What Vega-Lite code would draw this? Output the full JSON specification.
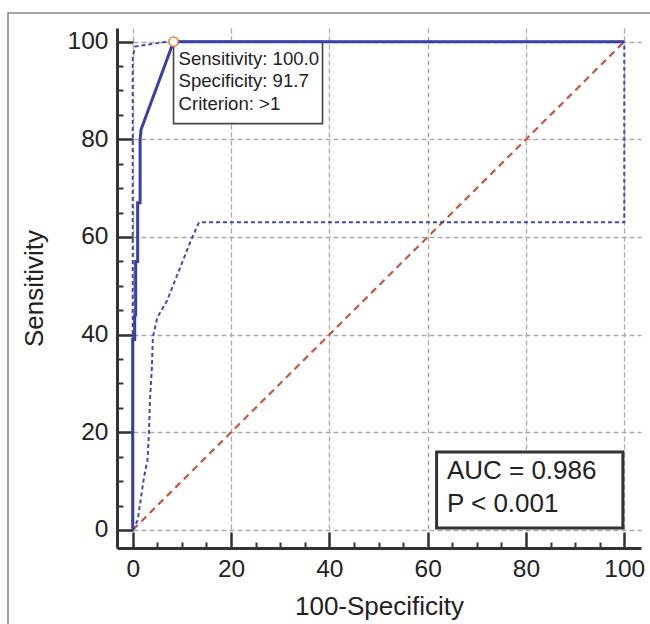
{
  "$schema": "https://vega.github.io/schema/vega-lite/v6.json",
  "width": 524,
  "height": 520,
  "autosize": "none",
  "padding": {"left": 117, "top": 28, "right": 9, "bottom": 76},
  "background": "white",
  "config": {
    "view": {"stroke": null},
    "font": "Liberation Sans",
    "text": {"font": "Liberation Sans"}
  },
  "datasets": {
    "roc": [
      {"x": 0, "y": 0}, {"x": 0, "y": 39}, {"x": 0.4, "y": 39}, {"x": 0.4, "y": 44},
      {"x": 0.6, "y": 44}, {"x": 0.6, "y": 55}, {"x": 1.0, "y": 55}, {"x": 1.0, "y": 67},
      {"x": 1.5, "y": 67}, {"x": 1.5, "y": 80}, {"x": 1.7, "y": 82}, {"x": 8.3, "y": 100},
      {"x": 100, "y": 100}
    ],
    "upper": [
      {"x": 0, "y": 0}, {"x": 0, "y": 97}, {"x": 0.5, "y": 99}, {"x": 7, "y": 100}, {"x": 100, "y": 100}
    ],
    "lower": [
      {"x": 0, "y": 0}, {"x": 1.0, "y": 2}, {"x": 1.6, "y": 6}, {"x": 2.3, "y": 10.9},
      {"x": 3.0, "y": 14.3}, {"x": 3.3, "y": 19.8}, {"x": 3.5, "y": 26.5}, {"x": 3.9, "y": 33.3},
      {"x": 4.1, "y": 39.5}, {"x": 5.0, "y": 43.5}, {"x": 7.0, "y": 47}, {"x": 11.8, "y": 59.2},
      {"x": 13.5, "y": 63}, {"x": 100, "y": 63}, {"x": 100, "y": 100}
    ],
    "diag": [{"x": 0, "y": 0}, {"x": 100, "y": 100}],
    "cut": [{"x": 8.3, "y": 100, "sensitivity": 100.0, "specificity": 91.7, "criterion": ">1"}],
    "stats": [{"auc": 0.986, "p": "< 0.001"}]
  },
  "resolve": {"axis": {"x": "independent", "y": "independent"}},
  "layer": [
    {
      "data": {"name": "diag"},
      "mark": {"type": "line", "stroke": "#c8553d", "strokeWidth": 2.2, "strokeDash": [7, 5]},
      "encoding": {
        "x": {
          "field": "x", "type": "quantitative",
          "scale": {"domain": [-3.2, 103.4], "nice": false, "zero": false},
          "axis": {
            "values": [0, 20, 40, 60, 80, 100],
            "tickSize": -16, "tickWidth": 2.5, "tickColor": "#333",
            "domainColor": "#333", "domainWidth": 3,
            "grid": true, "gridDash": [5, 3], "gridColor": "#aaaaaa", "gridWidth": 1.3,
            "labelFontSize": 24.5, "labelColor": "#222", "labelPadding": 25, "labelFlush": false,
            "labelOverlap": false,
            "title": "100-Specificity", "titleFontSize": 26, "titleFontWeight": "normal",
            "titleColor": "#222", "titlePadding": 13
          }
        },
        "y": {
          "field": "y", "type": "quantitative",
          "scale": {"domain": [-3.7, 102.8], "nice": false, "zero": false},
          "axis": {
            "values": [0, 20, 40, 60, 80, 100],
            "tickSize": -16, "tickWidth": 2.5, "tickColor": "#333",
            "domainColor": "#333", "domainWidth": 3,
            "grid": true, "gridDash": [5, 3], "gridColor": "#aaaaaa", "gridWidth": 1.3,
            "labelFontSize": 24.5, "labelColor": "#222", "labelPadding": 25, "labelFlush": false,
            "labelOverlap": false,
            "title": "Sensitivity", "titleFontSize": 26, "titleFontWeight": "normal",
            "titleColor": "#222", "titlePadding": 20
          }
        }
      }
    },
    {
      "data": {"name": "upper"},
      "mark": {"type": "line", "stroke": "#3d4bb5", "strokeWidth": 2, "strokeDash": [4, 3]},
      "encoding": {
        "x": {
          "field": "x", "type": "quantitative",
          "scale": {"domain": [-3.2, 103.4], "nice": false, "zero": false},
          "axis": {
            "orient": "bottom",
            "values": [5, 10, 15, 25, 30, 35, 45, 50, 55, 65, 70, 75, 85, 90, 95],
            "tickSize": -6, "tickWidth": 2, "tickColor": "#333",
            "domain": false, "labels": false, "grid": false, "title": null
          }
        },
        "y": {
          "field": "y", "type": "quantitative",
          "scale": {"domain": [-3.7, 102.8], "nice": false, "zero": false},
          "axis": {
            "orient": "left",
            "values": [5, 10, 15, 25, 30, 35, 45, 50, 55, 65, 70, 75, 85, 90, 95],
            "tickSize": -6, "tickWidth": 2, "tickColor": "#333",
            "domain": false, "labels": false, "grid": false, "title": null
          }
        }
      }
    },
    {
      "data": {"name": "lower"},
      "mark": {"type": "line", "stroke": "#3d4bb5", "strokeWidth": 2, "strokeDash": [4, 3]},
      "encoding": {
        "x": {"field": "x", "type": "quantitative", "scale": {"domain": [-3.2, 103.4], "nice": false, "zero": false}, "axis": null},
        "y": {"field": "y", "type": "quantitative", "scale": {"domain": [-3.7, 102.8], "nice": false, "zero": false}, "axis": null}
      }
    },
    {
      "data": {"name": "cut"},
      "mark": {"type": "rect", "fill": "white", "stroke": "#444", "strokeWidth": 1.6, "x2Offset": 149, "y2Offset": 82},
      "encoding": {
        "x": {"field": "x", "type": "quantitative", "scale": {"domain": [-3.2, 103.4], "nice": false, "zero": false}, "axis": null},
        "x2": {"field": "x"},
        "y": {"field": "y", "type": "quantitative", "scale": {"domain": [-3.7, 102.8], "nice": false, "zero": false}, "axis": null},
        "y2": {"field": "y"}
      }
    },
    {
      "data": {"name": "roc"},
      "mark": {"type": "line", "stroke": "#3a3fa6", "strokeWidth": 3},
      "encoding": {
        "x": {"field": "x", "type": "quantitative", "scale": {"domain": [-3.2, 103.4], "nice": false, "zero": false}, "axis": null},
        "y": {"field": "y", "type": "quantitative", "scale": {"domain": [-3.7, 102.8], "nice": false, "zero": false}, "axis": null}
      }
    },
    {
      "data": {"name": "cut"},
      "mark": {"type": "point", "shape": "circle", "filled": true, "fill": "white", "stroke": "#f08030", "strokeWidth": 1.6, "size": 85, "opacity": 1},
      "encoding": {
        "x": {"field": "x", "type": "quantitative", "scale": {"domain": [-3.2, 103.4], "nice": false, "zero": false}, "axis": null},
        "y": {"field": "y", "type": "quantitative", "scale": {"domain": [-3.7, 102.8], "nice": false, "zero": false}, "axis": null}
      }
    },
    {
      "data": {"name": "cut"},
      "mark": {"type": "text", "align": "left", "baseline": "alphabetic", "dx": 5, "dy": 23, "fontSize": 18.6, "lineHeight": 22.5, "color": "#222"},
      "encoding": {
        "x": {"field": "x", "type": "quantitative", "scale": {"domain": [-3.2, 103.4], "nice": false, "zero": false}, "axis": null},
        "y": {"field": "y", "type": "quantitative", "scale": {"domain": [-3.7, 102.8], "nice": false, "zero": false}, "axis": null},
        "text": {"value": ["Sensitivity: 100.0", "Specificity: 91.7", "Criterion: >1"]}
      }
    },
    {
      "data": {"name": "stats"},
      "mark": {"type": "rect", "fill": "white", "stroke": "#333", "strokeWidth": 3, "xOffset": -187.7, "x2Offset": -1.4, "yOffset": -78, "y2Offset": -2},
      "encoding": {
        "x": {"datum": 100, "type": "quantitative", "scale": {"domain": [-3.2, 103.4], "nice": false, "zero": false}, "axis": null},
        "x2": {"datum": 100},
        "y": {"datum": 0, "type": "quantitative", "scale": {"domain": [-3.7, 102.8], "nice": false, "zero": false}, "axis": null},
        "y2": {"datum": 0}
      }
    },
    {
      "data": {"name": "stats"},
      "mark": {"type": "text", "align": "left", "baseline": "alphabetic", "dx": -177.4, "dy": -51, "fontSize": 26, "lineHeight": 33, "color": "#222"},
      "encoding": {
        "x": {"datum": 100, "type": "quantitative", "scale": {"domain": [-3.2, 103.4], "nice": false, "zero": false}, "axis": null},
        "y": {"datum": 0, "type": "quantitative", "scale": {"domain": [-3.7, 102.8], "nice": false, "zero": false}, "axis": null},
        "text": {"value": ["AUC = 0.986", "P < 0.001"]}
      }
    },
    {
      "data": {"name": "stats"},
      "mark": {"type": "rect", "fill": "white", "fillOpacity": 0, "stroke": "#888", "strokeWidth": 1.5, "xOffset": -109, "x2Offset": 30, "yOffset": -15, "y2Offset": 100},
      "encoding": {
        "x": {"datum": -3.2, "type": "quantitative", "scale": {"domain": [-3.2, 103.4], "nice": false, "zero": false}, "axis": null},
        "x2": {"datum": 103.4},
        "y": {"datum": 102.8, "type": "quantitative", "scale": {"domain": [-3.7, 102.8], "nice": false, "zero": false}, "axis": null},
        "y2": {"datum": -3.7}
      }
    }
  ]
}
